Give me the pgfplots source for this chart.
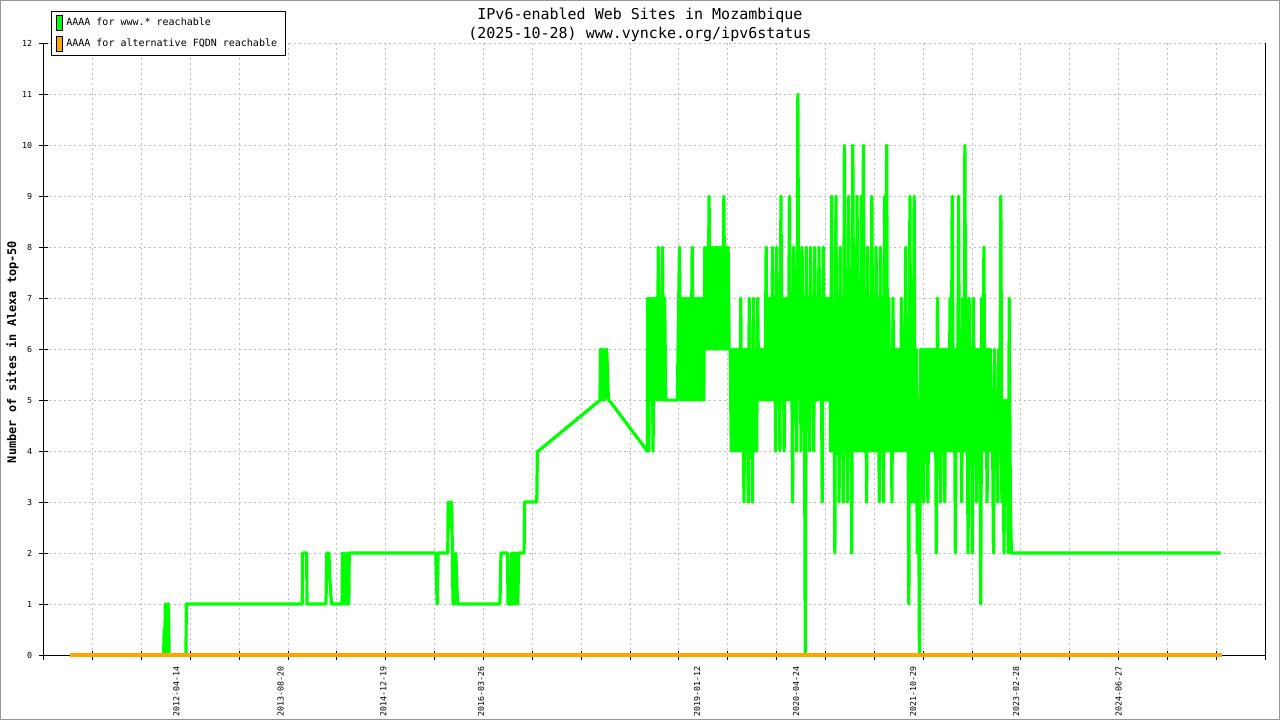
\documentclass[border=0pt]{standalone}
\usepackage{fontspec}
\setmainfont{DejaVu Sans Mono}
\usepackage{pgfplots}
\pgfplotsset{compat=1.18}
\definecolor{wgreen}{RGB}{0,255,0}
\definecolor{worange}{RGB}{255,165,0}
\definecolor{wgrid}{RGB}{190,190,190}
\definecolor{wframe}{RGB}{150,150,150}
\begin{document}
\begin{tikzpicture}
\useasboundingbox (0,0) rectangle (640pt,360pt);
\draw[wframe, line width=0.5pt] (0.25pt,0.25pt) rectangle (639.75pt,359.75pt);
\begin{axis}[
  at={(21.85pt,32.5pt)}, anchor=south west,
  scale only axis, width=610.8pt, height=305.85pt,
  xmin=-627.2, xmax=5151.05, ymin=0, ymax=12,
  clip=false,
  axis lines=left, axis line style={-, line width=0.5pt, black},
  xtick={-627.2,-396.07,-164.94,66.19,297.32,528.45,759.58,990.71,1221.84,1452.97,1684.10,1915.23,2146.36,2377.49,2608.62,2839.75,3070.88,3302.01,3533.14,3764.27,3995.40,4226.53,4457.66,4688.79,4919.92,5151.05},
  xticklabels={},
  extra x ticks={0,493,979,1442,2464,2932,3485,3972,4457},
  extra x tick labels={2012-04-14,2013-08-20,2014-12-19,2016-03-26,2019-01-12,2020-04-24,2021-10-29,2023-02-28,2024-06-27},
  extra x tick style={grid=none, tick style={draw=none}, tick label style={rotate=90, anchor=east}},
  ytick={0,1,2,3,4,5,6,7,8,9,10,11,12},
  grid=major, grid style={wgrid, line width=0.5pt, dash pattern=on 1pt off 1.5pt},
  major tick length=4.5pt, tick align=center, tick style={black, line width=0.5pt},
  tick label style={font=\fontsize{4.15pt}{5pt}\selectfont},
  /pgf/number format/assume math mode=true,
  title={IPv6-enabled Web Sites in Mozambique\\(2025-10-28) www.vyncke.org/ipv6status},
  title style={at={(axis description cs:0.4881,1.0106)}, anchor=center, align=center, font=\fontsize{7.5pt}{9.35pt}\selectfont},
  ylabel={Number of sites in Alexa top-50},
  ylabel style={at={(axis description cs:-0.02554,0.4953)}, anchor=center, font=\bfseries\fontsize{5.95pt}{7pt}\selectfont},
  legend style={at={(axis description cs:0.0057,1.0533)}, anchor=north west, draw=black, line width=0.5pt, fill=white, font=\fontsize{5pt}{6pt}\selectfont, inner xsep=2.2pt, inner ysep=1.2pt, row sep=1.1pt},
  legend cell align=left,
]
\addplot[wgreen, line width=1.6pt, line join=round, forget plot] table[row sep=\\] {
x y\\
-503 0\\ -60 0\\ -57 0.5\\ -55 0\\ -52 1\\ -48 0\\ -45 1\\ -40 0\\ -37 1\\ -34 0\\
46 0\\ 47 1\\ 596 1\\ 597 2\\ 617 2\\ 618 1\\ 708 1\\ 710 1.5\\ 712 2\\ 718 2\\
720 1.5\\ 722 2\\ 726 1.5\\ 734 1\\ 784 1\\ 786 2\\ 790 1\\ 794 2\\ 798 1.5\\ 802 1\\
806 2\\ 808 1\\ 816 1\\ 818 2\\ 1228 2\\ 1230 1.5\\ 1234 1\\ 1238 2\\ 1284 2\\ 1286 3\\
1290 2.5\\ 1294 3\\ 1298 2.5\\ 1302 3\\ 1306 2\\ 1309 1\\ 1318 1\\ 1322 2\\ 1326 1.5\\ 1330 1\\
1531 1\\ 1533 1.5\\ 1536 2\\ 1567 2\\ 1569 1\\ 1583 1\\ 1586 2\\ 1589 1\\ 1592 2\\ 1595 1\\
1598 2\\ 1601 1\\ 1604 2\\ 1607 1\\ 1612 2\\ 1615 1\\ 1620 2\\ 1645 2\\ 1647 3\\ 1705 3\\
1708 4\\ 1712 4\\ 2004 5\\ 2006 6\\ 2010 5.5\\ 2014 6\\ 2018 5\\ 2022 5.5\\ 2026 5\\ 2030 6\\
2036 6\\ 2040 5.5\\ 2044 5\\ 2047 5\\ 2228 4\\
2230 7\\ 2235 4\\ 2240 7\\ 2245 5\\ 2250 7\\ 2255 4\\ 2260 7\\ 2265 5\\ 2270 7\\ 2275 5\\
2280 8\\ 2285 5\\ 2290 7\\ 2295 5\\ 2300 8\\ 2305 5\\ 2310 7\\ 2315 5\\ 2320 5\\ 2370 5\\
2380 8\\ 2385 5\\ 2390 7\\ 2395 5\\ 2400 7\\ 2405 5\\ 2410 7\\ 2415 5\\ 2420 7\\ 2425 5\\
2430 7\\ 2435 5\\ 2440 8\\ 2445 5\\ 2450 7\\ 2455 5\\ 2460 7\\ 2465 5\\ 2470 7\\ 2475 5\\
2480 7\\ 2485 5\\ 2490 7\\ 2495 5\\
2500 8\\ 2505 6\\ 2510 8\\ 2515 6\\ 2520 9\\ 2525 6\\ 2530 8\\ 2535 6\\ 2540 8\\ 2545 6\\
2550 8\\ 2555 6\\ 2560 8\\ 2565 6\\ 2570 8\\ 2575 6\\ 2580 8\\ 2585 6\\ 2590 9\\ 2595 6\\
2600 8\\ 2605 6\\ 2610 8\\ 2615 6\\
2620 6\\ 2625 4\\ 2630 6\\ 2635 4\\ 2640 6\\ 2645 4\\ 2650 6\\ 2655 4\\ 2660 6\\ 2665 4\\
2670 7\\ 2675 4\\ 2680 6\\ 2685 3\\ 2690 6\\ 2695 4\\ 2700 6\\ 2705 3\\ 2710 7\\ 2715 4\\
2720 6\\ 2725 3\\ 2730 7\\ 2735 4\\ 2740 6\\ 2745 4\\ 2750 7\\ 2755 5\\ 2760 6\\ 2765 5\\
2770 6\\ 2775 5\\ 2780 6\\ 2785 5\\
2790 8\\ 2795 5\\ 2800 7\\ 2805 5\\ 2810 7\\ 2815 5\\ 2820 8\\ 2825 5\\ 2830 7\\ 2835 4\\
2840 8\\ 2845 5\\ 2850 7\\ 2855 4\\ 2860 9\\ 2865 5\\ 2870 7\\ 2875 4\\ 2880 7\\ 2885 5\\
2890 7\\ 2895 5\\ 2900 9\\ 2905 5\\ 2910 7\\ 2915 3\\ 2920 8\\ 2925 5\\ 2930 7\\ 2935 4\\
2940 11\\ 2945 5\\ 2950 7\\ 2955 4\\ 2960 8\\ 2965 5\\
2970 7\\ 2975 0\\ 2980 8\\ 2985 5\\ 2990 7\\ 2995 4\\ 3000 8\\ 3005 5\\ 3010 7\\ 3015 4\\
3020 8\\ 3025 5\\ 3030 7\\ 3035 5\\ 3040 8\\ 3045 5\\ 3050 7\\ 3055 3\\ 3060 8\\ 3065 5\\
3070 7\\ 3075 5\\ 3080 7\\ 3085 5\\ 3090 7\\ 3095 4\\
3100 9\\ 3105 4\\ 3110 7\\ 3115 2\\ 3120 9\\ 3125 4\\ 3130 7\\ 3135 3\\ 3140 8\\ 3145 4\\
3150 7\\ 3155 3\\ 3160 10\\ 3165 4\\ 3170 7\\ 3175 3\\ 3180 9\\ 3185 4\\ 3190 7\\ 3195 2\\
3200 10\\ 3205 4\\ 3210 7\\ 3215 4\\ 3220 9\\ 3225 4\\ 3230 7\\ 3235 4\\ 3240 9\\ 3245 4\\
3250 10\\ 3255 4\\ 3260 7\\ 3265 3\\ 3270 8\\ 3275 4\\ 3280 7\\ 3285 4\\ 3290 9\\ 3295 4\\
3300 7\\ 3305 4\\ 3310 8\\ 3315 4\\ 3320 7\\ 3325 3\\ 3330 8\\ 3335 4\\ 3340 7\\ 3345 3\\
3350 9\\ 3355 4\\ 3360 10\\ 3365 4\\ 3370 7\\ 3375 4\\ 3380 6\\ 3385 3\\ 3390 7\\ 3395 4\\
3400 6\\ 3405 4\\ 3410 6\\ 3415 4\\ 3420 6\\ 3425 4\\ 3430 7\\ 3435 4\\ 3440 6\\ 3445 4\\
3450 8\\ 3455 4\\ 3460 6\\ 3465 1\\ 3470 9\\ 3475 3\\ 3480 6\\ 3485 3\\ 3490 9\\ 3495 3\\
3500 6\\ 3505 2\\ 3510 5\\ 3515 0\\
3520 6\\ 3525 4\\ 3530 6\\ 3535 3\\ 3540 6\\ 3545 4\\ 3550 6\\ 3555 3\\ 3560 6\\ 3565 4\\
3570 6\\ 3575 4\\ 3580 6\\ 3585 4\\ 3590 6\\ 3595 2\\ 3600 7\\ 3605 4\\ 3610 6\\ 3615 3\\
3620 6\\ 3625 4\\ 3630 6\\ 3635 3\\ 3640 6\\ 3645 4\\ 3650 6\\ 3655 4\\ 3660 7\\ 3665 4\\
3670 9\\ 3675 4\\ 3680 6\\ 3685 2\\ 3690 6\\ 3695 4\\ 3700 9\\ 3705 4\\ 3710 6\\ 3715 3\\
3720 7\\ 3725 4\\ 3730 10\\ 3735 4\\ 3740 6\\ 3745 2\\ 3750 7\\ 3755 4\\ 3760 6\\ 3765 2\\
3770 7\\ 3775 4\\ 3780 6\\ 3785 3\\ 3790 6\\ 3795 4\\ 3800 6\\ 3805 1\\ 3810 7\\ 3815 4\\
3820 8\\ 3825 4\\ 3830 6\\ 3835 3\\ 3840 6\\ 3845 4\\ 3850 6\\ 3855 4\\ 3860 5\\ 3865 2\\
3870 6\\ 3875 4\\ 3880 5\\ 3885 3\\ 3890 6\\ 3895 4\\ 3900 9\\ 3905 3\\ 3910 5\\ 3915 2\\
3920 5\\ 3925 3\\ 3930 5\\ 3935 2\\ 3940 7\\ 3945 3\\ 3950 2\\ 4940 2\\
};
\addplot[worange, line width=1.7pt, forget plot] coordinates {(-503,0) (4944,0)};
\draw[black, line width=0.5pt] (rel axis cs:1,0) -- (rel axis cs:1,1);
\addlegendimage{legend image code/.code={\draw[black, line width=0.4pt, fill=wgreen] (0pt,-3.75pt) rectangle (3pt,3.75pt);}}
\addlegendentry{AAAA for www.* reachable}
\addlegendimage{legend image code/.code={\draw[black, line width=0.4pt, fill=worange] (0pt,-3.75pt) rectangle (3pt,3.75pt);}}
\addlegendentry{AAAA for alternative FQDN reachable}
\end{axis}
\end{tikzpicture}
\end{document}
